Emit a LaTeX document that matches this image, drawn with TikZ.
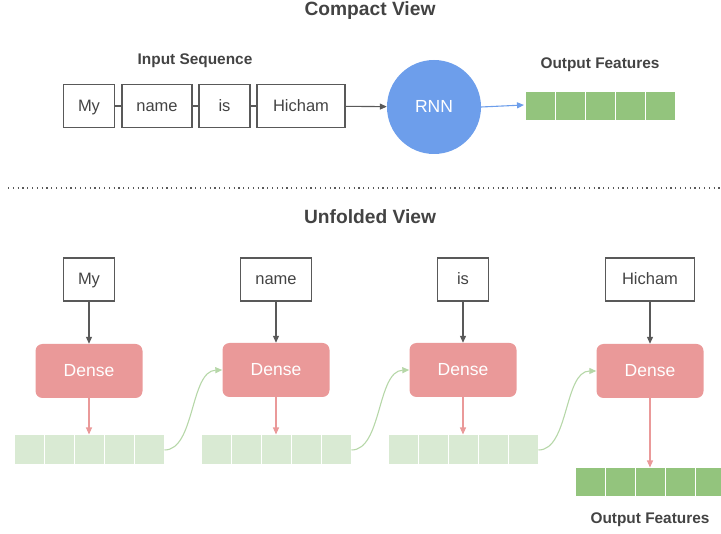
\documentclass[tikz,border=0pt]{standalone}
\usepackage{fontspec}
\setmainfont{Liberation Sans}
\usetikzlibrary{arrows.meta}
\definecolor{txt}{HTML}{434343}
\definecolor{linegray}{HTML}{595959}
\definecolor{rnnblue}{HTML}{6D9EEB}
\definecolor{densered}{HTML}{EA9999}
\definecolor{darkgreen}{HTML}{93C47D}
\definecolor{lightgreen}{HTML}{D9EAD3}
\definecolor{curvegreen}{HTML}{B6D7A8}
\tikzset{
  wordbox/.style={draw=linegray, line width=1.1pt, minimum height=43pt, inner sep=0pt, text height=10.8pt, text depth=0pt, text=txt, font=\fontsize{16.5}{16.5}\selectfont},
  densebox/.style={fill=densered, rounded corners=7pt, minimum width=107pt, minimum height=54pt, inner sep=0pt, text height=11.5pt, text depth=0pt, text=white, font=\fontsize{17.5}{17.5}\selectfont},
  cellbox/.style={draw=white, line width=1pt, minimum width=30pt, minimum height=30pt, inner sep=0pt},
  title/.style={text=txt, font=\fontsize{19.2}{19.2}\selectfont\bfseries},
  label/.style={text=txt, font=\fontsize{15.4}{15.4}\selectfont\bfseries},
  blackarrow/.style={draw=linegray, line width=1.1pt, -{Triangle[length=7pt,width=6pt]}},
  redarrow/.style={draw=densered, line width=1.1pt, -{Triangle[length=7pt,width=6pt]}},
  greenarrow/.style={draw=curvegreen, line width=1.1pt, -{Triangle[length=7pt,width=6pt]}},
}
\begin{document}
\begin{tikzpicture}[x=1pt,y=-1pt]
\useasboundingbox (0,0) rectangle (721,534);
% ---- Compact view
\node[title] (tcompact) at (370,11) {Compact View};
\node[label] (tinput) at (195,61) {Input Sequence};
\node[wordbox, minimum width=51pt] (cmy) at (89,106) {My};
\node[wordbox, minimum width=70pt] (cname) at (157,106) {name};
\node[wordbox, minimum width=51pt] (cis) at (224.5,106) {is};
\node[wordbox, minimum width=88pt] (chicham) at (301,106) {Hicham};
\draw[draw=linegray, line width=1.1pt] (cmy) -- (cname);
\draw[draw=linegray, line width=1.1pt] (cname) -- (cis);
\draw[draw=linegray, line width=1.1pt] (cis) -- (chicham);
\node[circle, fill=rnnblue, minimum size=94pt, inner sep=0pt, text height=11.5pt, text depth=0pt, text=white, font=\fontsize{17.5}{17.5}\selectfont] (rnn) at (434,107) {RNN};
\draw[blackarrow] (chicham) -- (rnn);
\node[label] (toutc) at (600,65) {Output Features};
\foreach \i in {1,...,5} {
  \node[cellbox, fill=darkgreen, minimum height=29pt] (oc\i) at ({510+30*\i},106.5) {};
}
\coordinate (ocin) at (524,105);
\draw[draw=rnnblue, line width=1.1pt, -{Triangle[length=7pt,width=6pt]}] (rnn.east) -- (ocin);
% ---- separator
\draw[draw=linegray, line width=1.2pt, dash pattern=on 1.2pt off 3.6pt] (8,188) -- (721,188);
% ---- Unfolded view
\node[title] (tunfold) at (370,217) {Unfolded View};
\node[wordbox, minimum width=51pt] (w1) at (89,279.5) {My};
\node[wordbox, minimum width=71pt] (w2) at (276,279.5) {name};
\node[wordbox, minimum width=51pt] (w3) at (463,279.5) {is};
\node[wordbox, minimum width=89pt] (w4) at (650,279.5) {Hicham};
\node[densebox] (d1) at (89,371) {Dense};
\node[densebox] (d2) at (276,370) {Dense};
\node[densebox] (d3) at (463,370) {Dense};
\node[densebox] (d4) at (650,371) {Dense};
\foreach \k in {1,...,4} {\draw[blackarrow] (w\k) -- (d\k);}
% light green rows
\foreach \r/\x in {1/14,2/201,3/388} {
  \foreach \i in {1,...,5} {
    \node[cellbox, fill=lightgreen] (r\r c\i) at ({\x+30*\i-15},450) {};
  }
}
\foreach \i in {1,...,5} {
  \node[cellbox, fill=darkgreen, minimum height=29pt] (fo\i) at ({575+30*\i-15},482.5) {};
}
\draw[redarrow] (d1.south) -- (r1c3.north);
\draw[redarrow] (d2.south) -- (r2c3.north);
\draw[redarrow] (d3.south) -- (r3c3.north);
\draw[redarrow] (d4.south) -- (fo3.north);
\draw[greenarrow] (r1c5.east) .. controls (195,450) and (190,371) .. (d2.west);
\draw[greenarrow] (r2c5.east) .. controls (382,450) and (377,371) .. (d3.west);
\draw[greenarrow] (r3c5.east) .. controls (569,450) and (564,371) .. (d4.west);
\node[label] (toutu) at (650,520) {Output Features};
\end{tikzpicture}
\end{document}
